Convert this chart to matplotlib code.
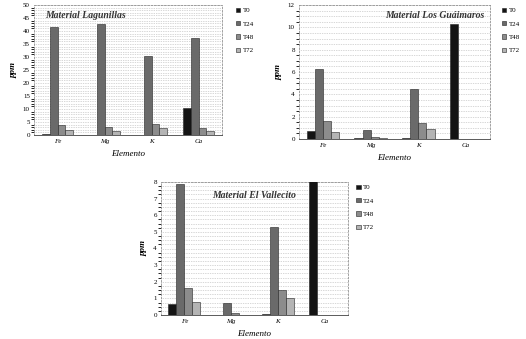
import numpy as np
import matplotlib
matplotlib.use("Agg")
import matplotlib.pyplot as plt
from matplotlib.ticker import MultipleLocator

plt.rcParams['font.family'] = ['Liberation Serif', 'DejaVu Serif']

elementos = ["Fe", "Mg", "K", "Ca"]
series = ["T0", "T24", "T48", "T72"]
colores = ["#141414", "#6a6a6a", "#8c8c8c", "#b4b4b4"]

# ppm por elemento, una lista por serie
lagunillas = [
    [0.5, 0.0, 0.0, 10.2],
    [41.6, 42.8, 30.3, 37.3],
    [3.8, 2.9, 4.2, 2.7],
    [1.9, 1.5, 2.7, 1.7],
]
guaimaros = [
    [0.68, 0.05, 0.05, 10.3],
    [6.27, 0.83, 4.5, 0.0],
    [1.57, 0.2, 1.43, 0.0],
    [0.65, 0.05, 0.89, 0.0],
]
vallecito = [
    [0.66, 0.0, 0.06, 10.0],
    [7.9, 0.7, 5.3, 0.0],
    [1.6, 0.1, 1.5, 0.0],
    [0.76, 0.02, 1.04, 0.0],
]

W, H = 526, 339
fig = plt.figure(figsize=(W / 100, H / 100), dpi=100)


def panel(rect, datos, titulo, ymax, paso, minor, tpos, legx):
    l, t, r, b = rect
    ax = fig.add_axes([l / W, 1 - b / H, (r - l) / W, (b - t) / H])
    x = np.arange(len(elementos))
    w = 0.17
    for i, (nom, vals) in enumerate(zip(series, datos)):
        ax.bar(x + (i - 1.5) * w, vals, w, color=colores[i],
               edgecolor="#222222", linewidth=0.4, label=nom, zorder=3)
    ax.set_xlim(-0.5, len(elementos) - 0.5)
    ax.set_ylim(0, ymax)
    ax.yaxis.set_major_locator(MultipleLocator(paso))
    ax.yaxis.set_minor_locator(MultipleLocator(minor))
    ax.grid(axis="y", which="both", linestyle=(0, (1, 1.5)),
            color="#b0b0b0", linewidth=0.5, zorder=0)
    ax.set_xticks(x)
    ax.set_xticklabels(elementos, fontsize=5.5, style="italic")
    ax.tick_params(axis="both", length=0, pad=3, labelsize=5)
    for s in ax.spines.values():
        s.set_linestyle((0, (2, 2)))
        s.set_color("#909090")
        s.set_linewidth(0.6)
    ax.spines["bottom"].set_linestyle("-")
    ax.spines["bottom"].set_color("#404040")
    ax.set_ylabel("ppm", fontsize=6.5, style="italic", fontweight="bold", labelpad=4)
    ax.set_xlabel("Elemento", fontsize=6.5, style="italic", labelpad=4)
    ax.text(tpos[0], tpos[1], titulo, transform=ax.transAxes,
            fontsize=7, style="italic", fontweight="bold", color="#333333",
            ha=tpos[2], va="center", zorder=5)
    ax.legend(loc="upper left", bbox_to_anchor=(legx, 1.0), frameon=False,
              fontsize=5, handlelength=0.6, handleheight=0.6,
              handletextpad=0.4, labelspacing=1.1, borderaxespad=0)
    return ax


panel((34, 5, 222, 135), lagunillas, "Material Lagunillas", 50, 5, 1,
      (0.06, 0.92, "left"), 1.06)
panel((299, 5, 490, 139), guaimaros, "Material Los Guáimaros", 12, 2, 0.5,
      (0.97, 0.92, "right"), 1.05)
panel((161, 182, 348, 315), vallecito, "Material El Vallecito", 8, 1, 0.25,
      (0.5, 0.9, "center"), 1.03)

fig.savefig("out.png", dpi=100)
